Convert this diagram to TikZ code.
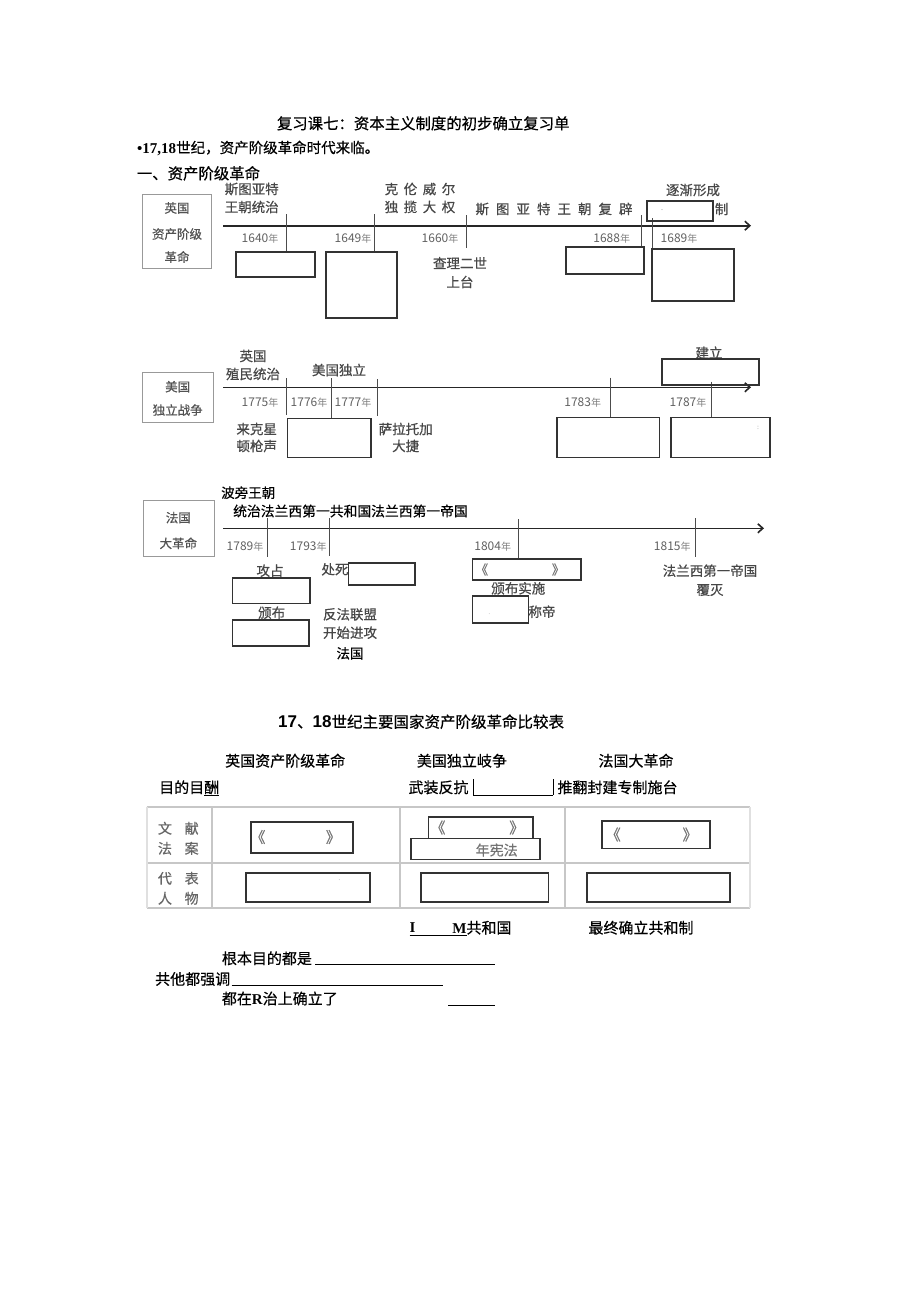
\documentclass[tikz,border=0pt]{standalone}
\usepackage{fontspec}
\setmainfont{Liberation Serif}
\newfontfamily\cjk[FakeBold=0.5]{Noto Sans CJK SC}
\newfontfamily\cjkl{Noto Sans CJK SC}
\newfontfamily\arialf{Liberation Sans}
\usetikzlibrary{arrows.meta,fit}
\newcommand\yrtxt[1]{#1{\fontsize{10}{11}\selectfont\color{black!50}年}}
\newcommand\tlTick[4]{\coordinate (#1a) at (#2,#3); \coordinate (#1b) at (#2,#4); \draw[tickline] (#1a) -- (#1b);}
\newcommand\blankbox[5]{\node[blank, fit={(#2,#3) (#4,#5)}] (#1) {};}
\newcommand\sidebox[5]{\node[side, fit={(#2,#3) (#4,#5)}] (#1) {};}
\begin{document}
\begin{tikzpicture}[x=1pt,y=-1pt,
 tl/.style={font=\cjk\fontsize{13.5}{16}\selectfont, text=black!72, inner sep=0pt},
 yr/.style={font=\cjkl\fontsize{12}{13}\selectfont, text=black!62, inner sep=0pt},
 doc/.style={font=\cjk\fontsize{15}{18}\selectfont, text=black, inner sep=0pt},
 side/.style={draw=black!40, line width=1pt, inner sep=0pt},
 sidetext/.style={font=\cjk\fontsize{12.5}{14}\selectfont, text=black!68, inner sep=0pt},
 blank/.style={draw=black!80, line width=1.6pt, inner sep=0pt},
 tickline/.style={draw=black!70, line width=1pt},
 axis/.style={draw=black!85, line width=1.6pt, -{Straight Barb[length=5pt,width=9pt]}},
 gridline/.style={draw=black!22, line width=2pt},
 brk/.style={font=\cjk\fontsize{15}{16}\selectfont, text=black!55, inner sep=0pt},
 rowlab/.style={font=\cjk\fontsize{14}{16}\selectfont, text=black!60, inner sep=0pt},
 uline/.style={draw=black, line width=0.8pt}
]
\useasboundingbox (0,0) rectangle (920,1301);
\fill[white] (0,0) rectangle (920,1301);

% ---------- header ----------
\node[doc, font=\cjk\fontsize{15.4}{18}\selectfont, anchor=west] (title) at (276.7,123.3) {复习课七：资本主义制度的初步确立复习单};
\node[doc, anchor=west, font=\fontsize{15}{18}\selectfont] (intro) at (137,148) {{\bfseries •17,18}{\cjk\fontsize{14.5}{16}\selectfont 世纪，资产阶级革命时代来临。}};
\node[doc, font=\cjk\fontsize{15.4}{18}\selectfont, anchor=west] (sec1) at (136.7,173.3) {一、资产阶级革命};

% ---------- England ----------
\sidebox{sideE}{142}{194}{211}{268}
\node[sidetext] (sE1) at (177,208) {英国};
\node[sidetext] (sE2) at (177,234) {资产阶级};
\node[sidetext] (sE3) at (177,257) {革命};
\coordinate (eA0) at (223,225.7);
\coordinate (eA1) at (751,225.7);
\draw[axis] (eA0) -- (eA1);
\tlTick{t1640}{286.7}{214}{251.7}
\tlTick{t1649}{374}{214}{252}
\tlTick{t1660}{466.7}{215}{248}
\tlTick{t1688}{641.7}{215}{246.7}
\tlTick{t1689}{652}{218}{300}
\node[yr] (y1640) at (260,239) {\yrtxt{1640}};
\node[yr] (y1649) at (353,239) {\yrtxt{1649}};
\node[yr] (y1660) at (440,239) {\yrtxt{1660}};
\node[yr] (y1688) at (611.7,239) {\yrtxt{1688}};
\node[yr] (y1689) at (679,239) {\yrtxt{1689}};
\blankbox{e1640}{236}{251.7}{315}{277}
\blankbox{e1649}{325.7}{252}{397}{317.7}
\blankbox{e1688}{565.7}{246.7}{644}{274}
\blankbox{e1689}{651.7}{249}{734}{300.7}
\blankbox{eForm}{647}{201}{712.7}{221}
\node[tl] (eStu1) at (251.7,189) {斯图亚特};
\node[tl] (eStu2) at (251.7,207) {王朝统治};
\node[tl] (eCrom1) at (420,189) {克\hspace{5.5pt}伦\hspace{5.5pt}威\hspace{5.5pt}尔};
\node[tl] (eCrom2) at (420,207) {独\hspace{5.5pt}揽\hspace{5.5pt}大\hspace{5.5pt}权};
\node[tl] (eRest) at (554,209) {斯\hspace{7pt}图\hspace{7pt}亚\hspace{7pt}特\hspace{7pt}王\hspace{7pt}朝\hspace{7pt}复\hspace{7pt}辟};
\node[tl] (eChar1) at (460,263) {查理二世};
\node[tl] (eChar2) at (460,282) {上台};
\node[tl] (eGrad) at (693,190) {逐渐形成};
\node[tl] (eZhi) at (721.7,209) {制};
\node[tl, font=\fontsize{8}{8}\selectfont, text=black!50] (eDot) at (662,210) {.};

% ---------- USA ----------
\sidebox{sideU}{142.3}{372}{213.3}{422.7}
\node[sidetext] (sU1) at (177.7,386.7) {美国};
\node[sidetext] (sU2) at (177.7,410) {独立战争};
\coordinate (uA0) at (223,387.3);
\coordinate (uA1) at (751,387.3);
\draw[axis] (uA0) -- (uA1);
\tlTick{t1775}{286.7}{378}{415}
\tlTick{t1776}{331}{378}{418.3}
\tlTick{t1777}{377}{379}{416}
\tlTick{t1783}{610}{377.7}{417.3}
\tlTick{t1787}{711.7}{381.7}{417.3}
\node[yr] (y1775) at (260,402.7) {\yrtxt{1775}};
\node[yr] (y1776) at (309,402.7) {\yrtxt{1776}};
\node[yr] (y1777) at (353,402.7) {\yrtxt{1777}};
\node[yr] (y1783) at (582.7,402.3) {\yrtxt{1783}};
\node[yr] (y1787) at (688,402.3) {\yrtxt{1787}};
\node[tl] (uCol1) at (253,356) {英国};
\node[tl] (uCol2) at (253,374) {殖民统治};
\node[tl] (uInd) at (339,370) {美国独立};
\node[tl] (uEst) at (709,352.7) {建立};
\blankbox{uEstB}{662}{359}{759}{385}
\node[tl] (uLex1) at (256.7,429) {来克星};
\node[tl] (uLex2) at (256.7,446) {顿枪声};
\blankbox{u1776}{287.3}{418.3}{371}{457.3}
\node[tl] (uSar1) at (405.7,429) {萨拉托加};
\node[tl] (uSar2) at (405.7,446) {大捷};
\blankbox{u1783}{556.7}{417.3}{659.3}{457.3}
\blankbox{u1787}{671}{417.3}{770}{457.3}
\node[tl, font=\fontsize{7}{7}\selectfont, text=black!40] (uDot) at (758,428) {:};

% ---------- France ----------
\node[doc, font=\cjk\fontsize{13.5}{16}\selectfont, anchor=west] (fBour) at (221,492.7) {波旁王朝};
\node[doc, font=\cjk\fontsize{13.8}{16}\selectfont, anchor=west] (fRule) at (233,511) {统治法兰西第一共和国法兰西第一帝国};
\sidebox{sideF}{143.3}{500.7}{214}{556.7}
\node[sidetext] (sF1) at (178.3,517.7) {法国};
\node[sidetext] (sF2) at (178.3,543.3) {大革命};
\coordinate (fA0) at (223,528.3);
\coordinate (fA1) at (764,528.3);
\draw[axis] (fA0) -- (fA1);
\tlTick{t1789}{267.7}{518}{556.7}
\tlTick{t1793}{329}{518}{556}
\tlTick{t1804}{518.3}{519}{559}
\tlTick{t1815}{695.7}{518}{557}
\node[yr] (y1789) at (245,546.7) {\yrtxt{1789}};
\node[yr] (y1793) at (308.3,546.7) {\yrtxt{1793}};
\node[yr] (y1804) at (492.7,546.7) {\yrtxt{1804}};
\node[yr] (y1815) at (672.3,546.7) {\yrtxt{1815}};
\node[tl] (fSei) at (270,570.7) {攻占};
\blankbox{fB1}{232.3}{577.7}{310}{603.3}
\node[tl] (fPub) at (271.7,612.7) {颁布};
\blankbox{fB2}{232.3}{620}{309}{645.7}
\node[tl] (fExe) at (335,569.3) {处死};
\blankbox{fB3}{348.3}{562.7}{415}{585}
\node[tl] (fCoa1) at (350,614.3) {反法联盟};
\node[tl] (fCoa2) at (350,632.7) {开始进攻};
\node[doc, font=\cjk\fontsize{13.5}{16}\selectfont] (fFr) at (350,653.3) {法国};
\blankbox{fB4}{472.3}{559}{580.7}{580}
\node[brk, font=\cjk\fontsize{13}{14}\selectfont] (fL) at (481.7,569.5) {《};
\node[brk, font=\cjk\fontsize{13}{14}\selectfont] (fR) at (558.3,569.5) {》};
\node[tl] (fImp) at (518.3,588.3) {颁布实施};
\blankbox{fB5}{472.3}{596}{528.3}{622.7}
\node[tl, font=\fontsize{6}{6}\selectfont, text=black!40] (fDot) at (489.3,614) {.};
\node[tl] (fEmp) at (542,611.7) {称帝};
\node[tl] (fFall1) at (710,570.7) {法兰西第一帝国};
\node[tl] (fFall2) at (710,590) {覆灭};

% ---------- comparison table ----------
\node[doc, anchor=west] (tTitle) at (278,721.7) {{\arialf\bfseries\fontsize{17}{18}\selectfont 17}{\fontsize{15.5}{18}\selectfont 、}{\arialf\bfseries\fontsize{17}{18}\selectfont 18}{\fontsize{15.5}{18}\selectfont 世纪主要国家资产阶级革命比较表}};
\node[doc, anchor=west] (hE) at (225,760.7) {英国资产阶级革命};
\node[doc, anchor=west] (hU) at (416.7,760.7) {美国独立岐争};
\node[doc, anchor=west] (hF) at (598.3,760.7) {法国大革命};
\node[doc, anchor=west] (pE) at (159,787.3) {目的目酬};
\coordinate (pEu0) at (204,795); \coordinate (pEu1) at (219,795);
\draw[uline] (pEu0) -- (pEu1);
\node[doc, anchor=west] (pU) at (408.3,787.3) {武装反抗};
\coordinate (bar1a) at (473.3,779); \coordinate (bar1b) at (473.3,795);
\coordinate (bar2a) at (553.3,779); \coordinate (bar2b) at (553.3,795);
\draw[uline] (bar1a) -- (bar1b);
\draw[uline] (bar2a) -- (bar2b);
\draw[uline] (bar1b) -- (bar2b);
\node[doc, anchor=west] (pF) at (557.3,787.3) {推翻封建专制施台};

% grid
\coordinate (g00) at (146.7,807.3); \coordinate (g01) at (750,807.3);
\coordinate (g10) at (146.7,863.3); \coordinate (g11) at (750,863.3);
\coordinate (g20) at (146.7,908.3); \coordinate (g21) at (750,908.3);
\draw[gridline] (g00) -- (g01);
\draw[gridline] (g10) -- (g11);
\draw[gridline] (g20) -- (g21);
\coordinate (v0a) at (146.7,807.3); \coordinate (v0b) at (146.7,908.3);
\coordinate (v1a) at (211.7,807.3); \coordinate (v1b) at (211.7,908.3);
\coordinate (v2a) at (400,807.3); \coordinate (v2b) at (400,908.3);
\coordinate (v3a) at (565,807.3); \coordinate (v3b) at (565,908.3);
\coordinate (v4a) at (750,807.3); \coordinate (v4b) at (750,908.3);
\draw[gridline, draw=black!12] (v0a) -- (v0b);
\draw[gridline] (v1a) -- (v1b);
\draw[gridline] (v2a) -- (v2b);
\draw[gridline] (v3a) -- (v3b);
\draw[gridline, draw=black!12] (v4a) -- (v4b);

\node[rowlab] (rl1) at (178.3,828.3) {文\hspace{12.7pt}献};
\node[rowlab] (rl2) at (178.3,848.3) {法\hspace{12.7pt}案};
\node[rowlab] (rl3) at (178.3,878.3) {代\hspace{12.7pt}表};
\node[rowlab] (rl4) at (178.3,898.3) {人\hspace{12.7pt}物};

\blankbox{tE1}{250.7}{821.7}{352.7}{852.7}
\node[brk] (tE1l) at (258,837) {《};
\node[brk] (tE1r) at (333.3,837) {》};
\blankbox{tU1a}{428.3}{816.7}{532.7}{838.3}
\node[brk] (tU1l) at (438,827.5) {《};
\node[brk] (tU1r) at (516.7,827.5) {》};
\blankbox{tU1b}{410.7}{838.3}{540}{859.3}
\node[brk, font=\cjk\fontsize{14}{16}\selectfont] (tU1t) at (496.7,850) {年宪法};
\blankbox{tF1}{601.7}{820.7}{710}{848.3}
\node[brk] (tF1l) at (613.3,834.5) {《};
\node[brk] (tF1r) at (690,834.5) {》};

\blankbox{tE2}{246}{872.7}{370}{901.7}
\node[tl, font=\fontsize{6}{6}\selectfont, text=black!45] (tE2dot) at (339.3,880) {.};
\blankbox{tU2}{420.7}{872.7}{548.3}{901.7}
\blankbox{tF2}{586.7}{872.7}{730}{901.7}

% ---------- below table ----------
\node[doc, anchor=west, font=\bfseries\fontsize{15}{18}\selectfont] (iI) at (409.5,927.7) {I};
\node[doc, anchor=east, font=\fontsize{15}{18}\selectfont] (iM) at (511.7,927.7) {{\bfseries M}{\cjk 共和国}};
\coordinate (iU0) at (409.5,935.5); \coordinate (iU1) at (467,935.5);
\draw[uline] (iU0) -- (iU1);
\node[doc, anchor=west] (fin) at (588.3,927.7) {最终确立共和制};

\node[doc, anchor=west] (q1) at (221.7,958.3) {根本目的都是};
\coordinate (q1u0) at (315,964.8); \coordinate (q1u1) at (495,964.8);
\draw[uline] (q1u0) -- (q1u1);
\node[doc, anchor=west] (q2) at (155,979) {共他都强调};
\coordinate (q2u0) at (231.7,985.5); \coordinate (q2u1) at (443.3,985.5);
\draw[uline] (q2u0) -- (q2u1);
\node[doc, anchor=west, font=\fontsize{15}{18}\selectfont] (q3) at (221.7,998.5) {{\cjk 都在}{\bfseries R}{\cjk 治上确立了}};
\coordinate (q3u0) at (448.3,1005.5); \coordinate (q3u1) at (495,1005.5);
\draw[uline] (q3u0) -- (q3u1);
\end{tikzpicture}
\end{document}
